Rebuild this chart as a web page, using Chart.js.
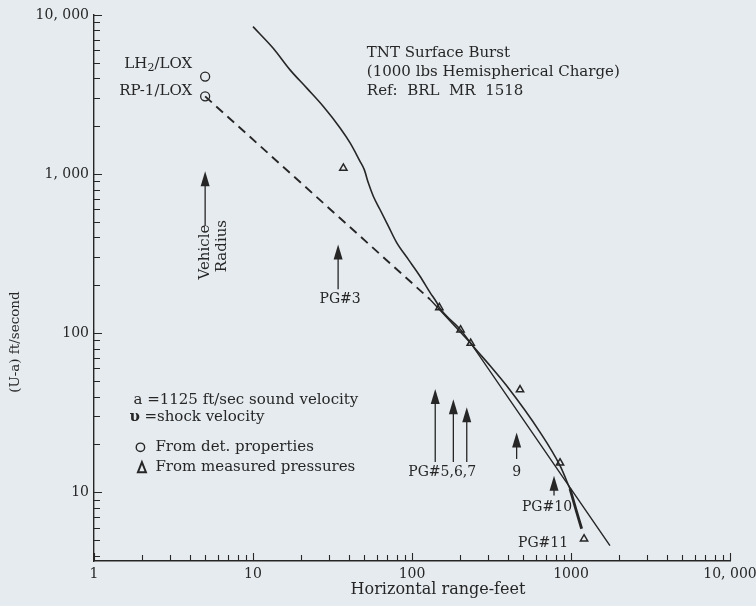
<!DOCTYPE html>
<html>
<head>
<meta charset="utf-8">
<title>TNT surface burst - shock velocity vs range</title>
<script src="https://cdn.jsdelivr.net/npm/chart.js@4.4.0/dist/chart.umd.min.js"></script>
<style>
  html, body { margin: 0; padding: 0; background: #e6ebef; }
  #wrap { position: relative; width: 756px; height: 606px; }
</style>
</head>
<body>
<div id="wrap"><canvas id="blastChart"></canvas></div>
<script>
// (U-a) shock velocity vs horizontal range, log-log

// TNT surface burst curve (ft, ft/sec)
const tntRange = [10, 13.4, 17.1, 21.8, 27.7, 35.3, 40.8, 47.1, 50.1, 53.1, 57.1, 62.9, 71, 80.1, 94.8, 112, 130, 143, 148.6, 202, 234, 310, 394, 638, 853, 986];
const tntVel = [8450, 6180, 4520, 3470, 2660, 1950, 1570, 1203, 1067, 881, 726, 599, 471, 371, 291, 229, 180, 156, 145, 105, 86.5, 62.4, 46.7, 23.9, 14.7, 10.5];
// heavier end of the TNT curve
const tntTailRange = [986, 1086, 1167];
const tntTailVel = [10.5, 7.5, 5.9];

// propellant line: dashed part from detonation properties, then solid
const rocketDashRange = [5, 130];
const rocketDashVel = [3080, 163];
const rocketRange = [130, 234, 1758];
const rocketVel = [163, 86.5, 4.62];

// O points: from det. properties
const detRange = [5, 5];
const detVel = [4100, 3080];

// triangle points: from measured pressures
const measRange = [37, 148.6, 202, 234, 478, 853, 1208];
const measVel = [1090, 145, 105, 86.5, 44.1, 15.3, 5.1];

// pressure gauge stations (ft)
const gaugeRange = [34.3, 140, 182, 221, 455, 782];
const vehicleRadius = 5;

const xTickValues = [1, 10, 100, 1000, 10000];
const xTickLabels = ['1', '10', '100', '1000', '10, 000'];
const yTickValues = [10, 100, 1000, 10000];
const yTickLabels = ['10', '100', '1, 000', '10, 000'];

const paper = '#e6ebef';
const ink = '#262626';
const serif = '"DejaVu Serif", "Liberation Serif", serif';

function toPoints(xs, ys) {
    return xs.map((x, i) => ({ x: x, y: ys[i] }));
}

function tickLabel(values, labels) {
    return function (value) {
        const i = values.findIndex(v => Math.abs(v - value) < v * 1e-6);
        return i >= 0 ? labels[i] : '';
    };
}

function logSteps(min, max) {
    const out = [];
    for (let e = Math.floor(Math.log10(min)); e <= Math.ceil(Math.log10(max)); e++) {
        for (let k = 1; k <= 9; k++) {
            const v = k * Math.pow(10, e);
            if (v >= min * 0.9999 && v <= max * 1.0001) out.push({ v: v, major: k === 1 });
        }
    }
    return out;
}

const paperBg = {
    id: 'paperBg',
    beforeDraw(chart) {
        const ctx = chart.ctx;
        ctx.save();
        ctx.fillStyle = paper;
        ctx.fillRect(0, 0, chart.width, chart.height);
        ctx.restore();
    }
};

// small tick marks pointing into the plot, like the original graph paper axes
const inwardTicks = {
    id: 'inwardTicks',
    afterDraw(chart) {
        const { ctx, chartArea: a } = chart;
        const sx = chart.scales.x, sy = chart.scales.y;
        ctx.save();
        ctx.strokeStyle = ink;
        ctx.lineWidth = 1.1;
        ctx.beginPath();
        logSteps(sx.min, sx.max).forEach(t => {
            const p = Math.round(sx.getPixelForValue(t.v)) + 0.5;
            ctx.moveTo(p, a.bottom);
            ctx.lineTo(p, a.bottom - (t.major ? 8 : 6));
        });
        logSteps(sy.min, sy.max).forEach(t => {
            const p = Math.round(sy.getPixelForValue(t.v)) + 0.5;
            ctx.moveTo(a.left, p);
            ctx.lineTo(a.left + (t.major ? 8 : 6), p);
        });
        ctx.stroke();
        ctx.restore();
    }
};

function arrow(ctx, x, yTop, yBot) {
    ctx.beginPath();
    ctx.lineWidth = 1.3;
    ctx.moveTo(x, yTop + 10);
    ctx.lineTo(x, yBot);
    ctx.stroke();
    ctx.beginPath();
    ctx.moveTo(x, yTop);
    ctx.lineTo(x - 4.5, yTop + 15);
    ctx.lineTo(x + 4.5, yTop + 15);
    ctx.closePath();
    ctx.fill();
}

const notes = {
    id: 'notes',
    afterDatasetsDraw(chart) {
        const ctx = chart.ctx;
        const a = chart.chartArea;
        const X = v => chart.scales.x.getPixelForValue(v);
        const Y = v => chart.scales.y.getPixelForValue(v);
        ctx.save();
        ctx.fillStyle = ink;
        ctx.strokeStyle = ink;
        ctx.textBaseline = 'middle';
        ctx.textAlign = 'left';

        // heading block
        ctx.font = '15px ' + serif;
        const hx = X(52), hy = Y(5750);
        ['TNT Surface Burst', '(1000 lbs Hemispherical Charge)', 'Ref:  BRL  MR  1518']
            .forEach((s, i) => ctx.fillText(s, hx, hy + i * 19));

        // propellant labels next to the circles (LH2 with subscript)
        const rx = X(detRange[0]) - 13;
        ctx.font = '15px ' + serif;
        const wLH = ctx.measureText('LH').width;
        const wSlash = ctx.measureText('/LOX').width;
        ctx.font = '11px ' + serif;
        const w2 = ctx.measureText('2').width;
        let lx = rx - (wLH + w2 + wSlash);
        const ly = Y(detVel[0]) - 12;
        ctx.font = '15px ' + serif;
        ctx.fillText('LH', lx, ly);
        ctx.font = '11px ' + serif;
        ctx.fillText('2', lx + wLH, ly + 4);
        ctx.font = '15px ' + serif;
        ctx.fillText('/LOX', lx + wLH + w2, ly);
        ctx.textAlign = 'right';
        ctx.fillText('RP-1/LOX', rx, Y(detVel[1]) - 5);

        // vehicle radius marker
        const vx = X(vehicleRadius);
        arrow(ctx, vx, Y(1041), Y(471));
        ctx.save();
        ctx.font = '15px ' + serif;
        ctx.textAlign = 'center';
        ctx.translate(vx, Y(471) + 26);
        ctx.rotate(-Math.PI / 2);
        ctx.fillText('Vehicle', 0, 0);
        ctx.restore();
        ctx.save();
        ctx.font = '15px ' + serif;
        ctx.textAlign = 'center';
        ctx.translate(vx + 16.5, Y(471) + 20);
        ctx.rotate(-Math.PI / 2);
        ctx.fillText('Radius', 0, 0);
        ctx.restore();

        // gauge arrows
        arrow(ctx, X(gaugeRange[0]), Y(361), Y(189));
        arrow(ctx, X(gaugeRange[1]), Y(44.6), Y(15.5));
        arrow(ctx, X(gaugeRange[2]), Y(38.5), Y(15.5));
        arrow(ctx, X(gaugeRange[3]), Y(34.2), Y(15.5));
        arrow(ctx, X(gaugeRange[4]), Y(23.8), Y(16.2));
        arrow(ctx, X(gaugeRange[5]), Y(12.7), Y(9.55));

        ctx.font = '14px ' + serif;
        ctx.textAlign = 'center';
        ctx.fillText('PG#3', X(gaugeRange[0]) + 2, Y(189) + 10);
        ctx.fillText('PG#5,6,7', X(gaugeRange[1]) + 7, Y(15.5) + 10);
        ctx.fillText('9', X(gaugeRange[4]), Y(16.2) + 13);
        ctx.fillText('PG#10', X(gaugeRange[5]) - 7, Y(9.55) + 12);
        ctx.fillText('PG#11', X(667), Y(4.75));

        // key
        ctx.textAlign = 'left';
        const kx = X(1.77), ky = Y(38.2);
        ctx.font = '15px ' + serif;
        ctx.fillText('a =1125 ft/sec sound velocity', kx, ky);
        ctx.font = 'bold 15px ' + serif;
        ctx.fillText('\u03c5', kx - 4, ky + 17.6);
        ctx.font = '15px ' + serif;
        ctx.fillText('=shock velocity', kx + 11, ky + 17.6);
        ctx.fillText('From det. properties', kx + 22, ky + 47.6);
        ctx.fillText('From measured pressures', kx + 22, ky + 67.6);
        ctx.lineWidth = 1.4;
        ctx.beginPath();
        ctx.arc(kx + 7, ky + 47.6, 4.2, 0, Math.PI * 2);
        ctx.stroke();
        ctx.lineWidth = 2;
        ctx.beginPath();
        ctx.moveTo(kx + 8.5, ky + 62.5);
        ctx.lineTo(kx + 4.5, ky + 72.5);
        ctx.lineTo(kx + 12.5, ky + 72.5);
        ctx.closePath();
        ctx.stroke();

        // axis titles
        ctx.font = '16px ' + serif;
        ctx.textAlign = 'center';
        ctx.fillText('Horizontal range-feet', a.left + 344, a.bottom + 29);
        ctx.save();
        ctx.font = '13.5px ' + serif;
        ctx.translate(a.left - 79, Y(88));
        ctx.rotate(-Math.PI / 2);
        ctx.fillText('(U-a) ft/second', 0, 0);
        ctx.restore();

        ctx.restore();
    }
};

const ctx = document.getElementById('blastChart').getContext('2d');

new Chart(ctx, {
    type: 'scatter',
    data: {
        datasets: [
            {
                label: 'TNT Surface Burst',
                data: toPoints(tntRange, tntVel),
                showLine: true,
                borderColor: ink,
                borderWidth: 1.6,
                pointRadius: 0,
                cubicInterpolationMode: 'monotone'
            },
            {
                label: 'TNT Surface Burst (end)',
                data: toPoints(tntTailRange, tntTailVel),
                showLine: true,
                borderColor: ink,
                borderWidth: 2.8,
                pointRadius: 0,
                cubicInterpolationMode: 'monotone'
            },
            {
                label: 'Propellant (extrapolated)',
                data: toPoints(rocketDashRange, rocketDashVel),
                showLine: true,
                borderColor: ink,
                borderWidth: 1.9,
                borderDash: [9, 6],
                pointRadius: 0
            },
            {
                label: 'Propellant',
                data: toPoints(rocketRange, rocketVel),
                showLine: true,
                borderColor: ink,
                borderWidth: 1.4,
                pointRadius: 0
            },
            {
                label: 'From det. properties',
                data: toPoints(detRange, detVel),
                pointStyle: 'circle',
                pointRadius: 4.5,
                borderWidth: 1.3,
                borderColor: ink,
                backgroundColor: paper
            },
            {
                label: 'From measured pressures',
                data: toPoints(measRange, measVel),
                pointStyle: 'triangle',
                pointRadius: 4.2,
                borderWidth: 1.5,
                borderColor: ink,
                backgroundColor: paper
            }
        ]
    },
    options: {
        responsive: true,
        maintainAspectRatio: false,
        animation: false,
        layout: { padding: { left: 0, right: 26, top: 15, bottom: 0 } },
        plugins: {
            legend: { display: false },
            tooltip: { enabled: false }
        },
        scales: {
            x: {
                type: 'logarithmic',
                min: 1,
                max: 10000,
                border: { display: true, color: ink, width: 1.4 },
                grid: { display: false, drawTicks: false },
                ticks: {
                    color: ink,
                    font: { family: serif, size: 14 },
                    padding: 5,
                    autoSkip: false,
                    maxRotation: 0,
                    callback: tickLabel(xTickValues, xTickLabels)
                },
                afterFit: function (scale) {
                    scale.height = 45;
                    scale.paddingLeft = 0;
                    scale.paddingRight = 0;
                }
            },
            y: {
                type: 'logarithmic',
                min: 3.7,
                max: 10000,
                border: { display: true, color: ink, width: 1.4 },
                grid: { display: false, drawTicks: false },
                ticks: {
                    color: ink,
                    font: { family: serif, size: 14 },
                    padding: 5,
                    autoSkip: false,
                    callback: tickLabel(yTickValues, yTickLabels)
                },
                afterFit: function (scale) {
                    scale.width = 94;
                    scale.paddingTop = 0;
                    scale.paddingBottom = 0;
                }
            }
        }
    },
    plugins: [paperBg, inwardTicks, notes]
});
</script>
</body>
</html>
